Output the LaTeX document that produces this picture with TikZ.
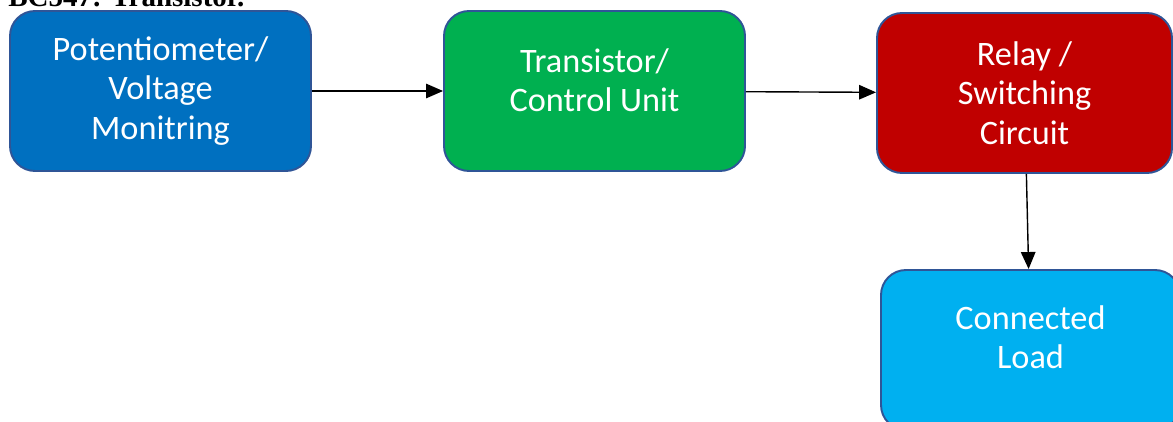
\documentclass[tikz,border=0pt]{standalone}
\usepackage{fontspec}
\setmainfont{Carlito}
\newfontfamily\capfont{Liberation Serif}
\usetikzlibrary{arrows.meta,positioning}
\definecolor{potblue}{HTML}{0070C0}
\definecolor{ctrlgreen}{HTML}{00B050}
\definecolor{relayred}{HTML}{C00000}
\definecolor{loadcyan}{HTML}{00B0F0}
\definecolor{boxline}{HTML}{2F5597}
\definecolor{ink}{HTML}{000000}
\tikzset{
  % ---- blocks ----------------------------------------------------
  block/.style    = {rectangle, rounded corners=0.5cm, draw=boxline,
                     line width=1.1pt, text=white, align=center,
                     minimum width=6.02cm, minimum height=3.2cm,
                     inner sep=0pt, font=\fontsize{19.5}{22.5}\selectfont},
  % ---- connectors ------------------------------------------------
  flow/.style     = {draw=ink, line width=.8pt,
                     -{Triangle[length=3.4mm,width=2.9mm]}},
  % ---- caption ---------------------------------------------------
  captxt/.style   = {font=\capfont\bfseries\fontsize{16.5}{19}\selectfont,
                     text=ink, inner sep=0pt, anchor=base west},
}
\begin{document}
\begin{tikzpicture}
  \useasboundingbox (0,0) rectangle (23.46,8.42);
  \node[captxt] (cap) at (0.16,8.29) {BC547: Transistor.};
  \node[block, fill=potblue] (pot) at (3.21,6.60) {Potentiometer/\\Voltage\\Monitring};
  \node[block, fill=ctrlgreen] (ctrl) at (11.89,6.60) {Transistor/\\Control Unit\\[-10pt]\mbox{}};
  \node[block, fill=relayred, minimum width=5.9cm] (relay) at (20.49,6.56) {Relay /\\Switching\\Circuit};
  \node[block, fill=loadcyan, minimum width=5.98cm] (load) at (20.61,1.42) {Connected\\Load\\[-7.7pt]\mbox{}};
  \draw[flow] (pot) -- (ctrl);
  \draw[flow] (ctrl) -- (relay);
  \draw[flow] (relay) -- (load);
\end{tikzpicture}
\end{document}
